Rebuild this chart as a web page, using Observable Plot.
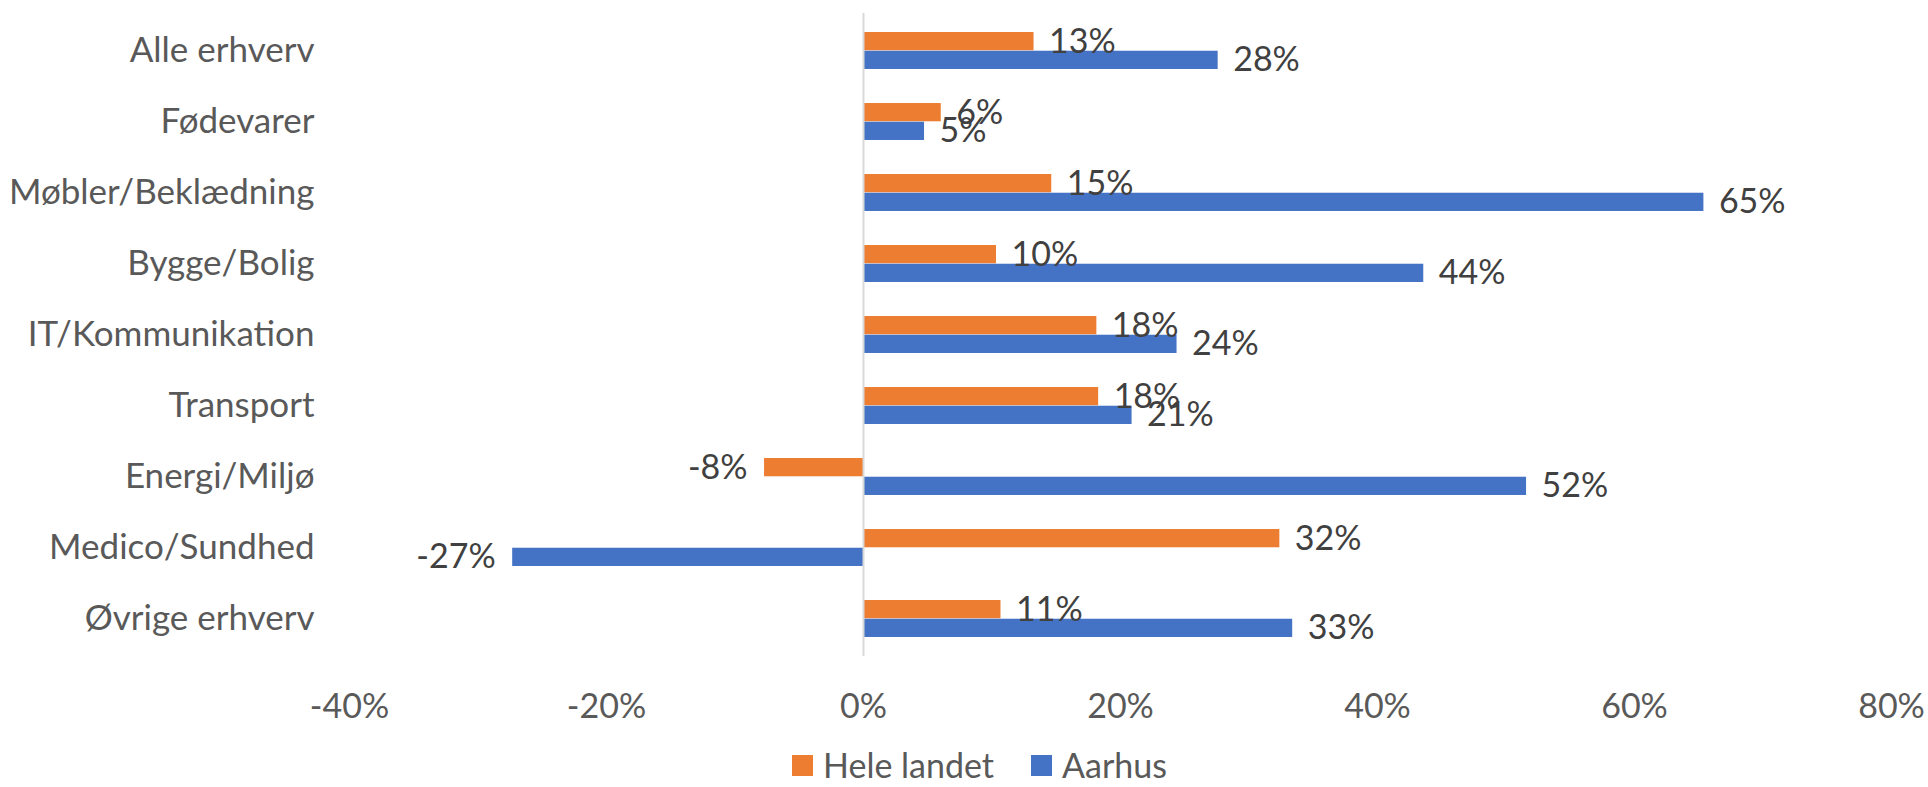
<!DOCTYPE html>
<html>
<head>
<meta charset="utf-8">
<script src="https://cdn.jsdelivr.net/npm/d3@7"></script>
<script src="https://cdn.jsdelivr.net/npm/@observablehq/plot@0.6"></script>
<style>
  html, body { margin: 0; padding: 0; background: #fff; }
  #wrap { position: relative; width: 1928px; height: 787px; font-family: Lato, "Open Sans", sans-serif; }
  #chart svg { display: block; }
  .leg { position: absolute; top: 747px; height: 36px; line-height: 36px; display: flex; align-items: center; font-size: 34px; color: #595959; white-space: nowrap; }
  .sw { width: 21px; height: 21px; margin-right: 10px; }
</style>
</head>
<body>
<div id="wrap">
  <div id="chart"></div>
  <div class="leg" style="left:792px"><span class="sw" style="background:#ED7D31"></span><span>Hele landet</span></div>
  <div class="leg" style="left:1031px"><span class="sw" style="background:#4472C4"></span><span>Aarhus</span></div>
</div>
<script>
const categories = ["Alle erhverv", "Fødevarer", "Møbler/Beklædning", "Bygge/Bolig", "IT/Kommunikation", "Transport", "Energi/Miljø", "Medico/Sundhed", "Øvrige erhverv"];
const heleLandet = [0.1327, 0.0605, 0.1465, 0.1035, 0.1816, 0.183, -0.077, 0.324, 0.107];
const aarhus = [0.276, 0.0475, 0.654, 0.436, 0.244, 0.209, 0.516, -0.273, 0.334];
const xTicks = [-0.4, -0.2, 0, 0.2, 0.4, 0.6, 0.8];
const seriesNames = ["Hele landet", "Aarhus"];
const seriesColors = ["#ED7D31", "#4472C4"];

const pct = d => Math.round(d * 100) + "%";
const rowsHele = categories.map((c, i) => ({cat: c, v: heleLandet[i]}));
const rowsAarhus = categories.map((c, i) => ({cat: c, v: aarhus[i]}));

const H = 745, mT = 13, mB = 89;
const band = (H - mT - mB) / categories.length;
const barH = 18.7;
const half = band / 2;

function labels(rows, dy) {
  return [
    Plot.text(rows.filter(d => d.v >= 0), {x: "v", y: "cat", text: d => pct(d.v), dx: 15, dy, textAnchor: "start", fill: "#404040"}),
    Plot.text(rows.filter(d => d.v < 0), {x: "v", y: "cat", text: d => pct(d.v), dx: -17, dy, textAnchor: "end", fill: "#404040"})
  ];
}

const chart = Plot.plot({
  width: 1928,
  height: H,
  marginTop: mT,
  marginBottom: mB,
  marginLeft: 349,
  marginRight: 37,
  style: {fontFamily: "Lato, 'Open Sans', sans-serif", fontSize: "34px", background: "#fff", overflow: "visible"},
  x: {domain: [-0.4, 0.8], ticks: xTicks, tickFormat: pct, label: null},
  y: {domain: categories, padding: 0, label: null},
  marks: [
    Plot.barX(rowsHele, {x: "v", y: "cat", fill: seriesColors[0], insetTop: half - barH, insetBottom: half}),
    Plot.barX(rowsAarhus, {x: "v", y: "cat", fill: seriesColors[1], insetTop: half, insetBottom: half - barH}),
    Plot.ruleX([0], {stroke: "#D9D9D9", strokeWidth: 2}),
    ...labels(rowsHele, -barH / 2),
    ...labels(rowsAarhus, barH / 2),
    Plot.axisX({ticks: xTicks, tickFormat: pct, tickSize: 0, tickPadding: 37, fill: "#595959", label: null}),
    Plot.axisY({tickSize: 0, tickPadding: 35, fill: "#595959", fontSize: "35px", label: null})
  ]
});
document.getElementById("chart").appendChild(chart);
</script>
</body>
</html>
